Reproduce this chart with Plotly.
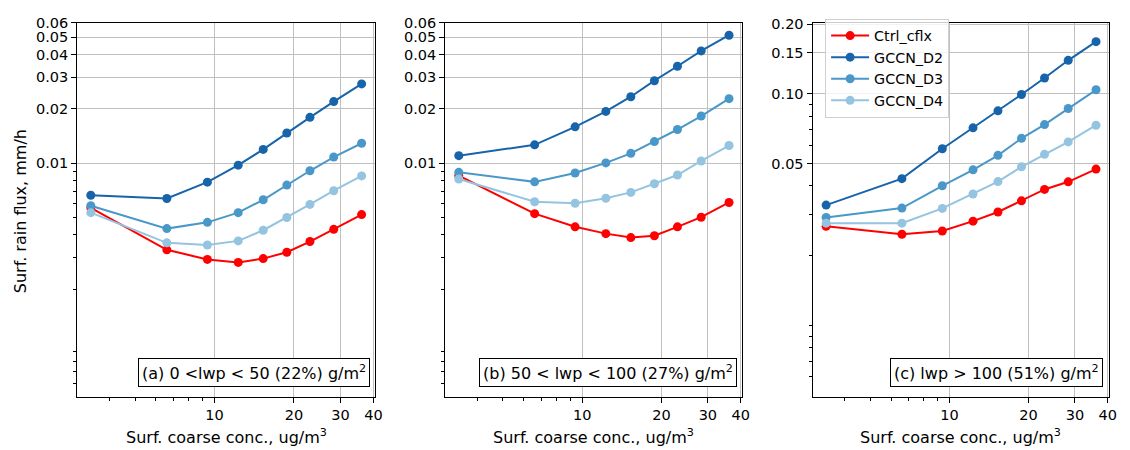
import plotly.graph_objects as go

# ---------------- data ----------------
coarse_conc = [3.4, 6.6, 9.4, 12.3, 15.3, 18.8, 23.0, 28.3, 36.1]

series_names = ["Ctrl_cflx", "GCCN_D2", "GCCN_D3", "GCCN_D4"]
series_colors = ["#ff0000", "#1764ab", "#4a98c9", "#94c4df"]

# panel (a) 0 < lwp < 50
ctrl_a = [0.00566, 0.00331, 0.00293, 0.00282, 0.00296, 0.00321, 0.00368, 0.00430, 0.00519]
d2_a = [0.00664, 0.00637, 0.00785, 0.00975, 0.01192, 0.01470, 0.01796, 0.02195, 0.02750]
d3_a = [0.00581, 0.00434, 0.00470, 0.00532, 0.00627, 0.00756, 0.00908, 0.01082, 0.01290]
d4_a = [0.00532, 0.00362, 0.00352, 0.00371, 0.00425, 0.00500, 0.00591, 0.00704, 0.00850]

# panel (b) 50 < lwp < 100
ctrl_b = [0.00853, 0.00525, 0.00444, 0.00407, 0.00387, 0.00396, 0.00444, 0.00502, 0.00606]
d2_b = [0.01101, 0.01264, 0.01590, 0.01936, 0.02336, 0.02866, 0.03445, 0.04190, 0.05121]
d3_b = [0.00890, 0.00788, 0.00882, 0.01004, 0.01134, 0.01317, 0.01537, 0.01825, 0.02279]
d4_b = [0.00818, 0.00611, 0.00600, 0.00639, 0.00689, 0.00769, 0.00860, 0.01029, 0.01253]

# panel (c) lwp > 100
ctrl_c = [0.02677, 0.02476, 0.02558, 0.02820, 0.03088, 0.03450, 0.03864, 0.04168, 0.04730]
d2_c = [0.03307, 0.04302, 0.05789, 0.07127, 0.08437, 0.0993, 0.1169, 0.1394, 0.1678]
d3_c = [0.02924, 0.03210, 0.04007, 0.04696, 0.05423, 0.06421, 0.07359, 0.08637, 0.1040]
d4_c = [0.02764, 0.02764, 0.03201, 0.03694, 0.04178, 0.04837, 0.05475, 0.06198, 0.07316]

panel_labels = [
    "(a) 0 <lwp < 50 (22%) g/m<sup>2</sup>",
    "(b) 50 < lwp < 100 (27%) g/m<sup>2</sup>",
    "(c) lwp > 100 (51%) g/m<sup>2</sup>",
]
x_title = "Surf. coarse conc., ug/m<sup>3</sup>"
y_title = "Surf. rain flux, mm/h"

x_tickvals = [10, 20, 30, 40]
x_ticktext = ["10", "20", "30", "40"]
x_minor = [4, 5, 6, 7, 8, 9]

y_tickvals_ab = [0.01, 0.02, 0.03, 0.04, 0.05, 0.06]
y_ticktext_ab = ["0.01", "0.02", "0.03", "0.04", "0.05", "0.06"]
y_minor_ab = [0.0006, 0.0007, 0.0008, 0.0009, 0.002, 0.003, 0.004, 0.005,
              0.006, 0.007, 0.008, 0.009]

y_tickvals_c = [0.05, 0.10, 0.15, 0.20]
y_ticktext_c = ["0.05", "0.10", "0.15", "0.20"]
y_minor_c = [0.006, 0.007, 0.008, 0.009, 0.01, 0.02, 0.03, 0.04,
             0.06, 0.07, 0.08, 0.09]

# ---------------- layout geometry ----------------
W, H = 1130, 450
FONT = "DejaVu Sans"
FS_TICK = 14.5
FS_LABEL = 16
FS_LEG = 14.3

x_domains = [(77.7 / W, 377.7 / W), (448.3 / W, 747.7 / W), (818.3 / W, 1117.3 / W)]
y_domain = (1 - 396 / H, 1 - 15 / H)
x_range = [0.4797, 1.6083]
y_range_ab = [-3.2956, -1.2215]
y_range_c = [-2.3086, -0.6935]

panels = [
    (ctrl_a, d2_a, d3_a, d4_a),
    (ctrl_b, d2_b, d3_b, d4_b),
    (ctrl_c, d2_c, d3_c, d4_c),
]

fig = go.Figure()

for p, data in enumerate(panels):
    xa = "x" if p == 0 else f"x{p + 1}"
    ya = "y" if p == 0 else f"y{p + 1}"
    for name, col, yvals in zip(series_names, series_colors, data):
        fig.add_trace(go.Scatter(
            x=coarse_conc, y=yvals, name=name, mode="lines+markers",
            line=dict(color=col, width=2),
            marker=dict(color=col, size=9),
            xaxis=xa, yaxis=ya,
            showlegend=(p == 2),
        ))

axis_common = dict(
    type="log", showline=True, linecolor="black", linewidth=1, mirror=True,
    ticks="outside", ticklen=5, tickwidth=1, tickcolor="black",
    showgrid=True, gridcolor="#c0c0c0", gridwidth=1, zeroline=False,
    tickfont=dict(family=FONT, size=FS_TICK, color="black"),
)

layout = dict(
    width=W, height=H,
    margin=dict(l=0, r=0, t=0, b=0),
    paper_bgcolor="white", plot_bgcolor="white",
    font=dict(family=FONT, size=FS_TICK, color="black"),
    legend=dict(
        x=831 / W, y=1 - 11 / H, xanchor="left", yanchor="top",
        bgcolor="rgba(255,255,255,0.8)", bordercolor="#d0d0d0", borderwidth=1,
        font=dict(family=FONT, size=FS_LEG, color="black"),
        itemwidth=38,
    ),
)

for p in range(3):
    xk = "xaxis" if p == 0 else f"xaxis{p + 1}"
    yk = "yaxis" if p == 0 else f"yaxis{p + 1}"
    ya_anchor = "y" if p == 0 else f"y{p + 1}"
    xa_anchor = "x" if p == 0 else f"x{p + 1}"
    layout[xk] = dict(
        axis_common, domain=list(x_domains[p]), anchor=ya_anchor,
        range=x_range, tickmode="array", tickvals=x_tickvals, ticktext=x_ticktext,
        minor=dict(tickmode="array", tickvals=x_minor, ticks="outside",
                   ticklen=3, tickcolor="black", showgrid=False),
    )
    if p < 2:
        yr, tv, tt, mn = y_range_ab, y_tickvals_ab, y_ticktext_ab, y_minor_ab
    else:
        yr, tv, tt, mn = y_range_c, y_tickvals_c, y_ticktext_c, y_minor_c
    layout[yk] = dict(
        axis_common, domain=list(y_domain), anchor=xa_anchor,
        range=yr, tickmode="array", tickvals=tv, ticktext=tt,
        minor=dict(tickmode="array", tickvals=mn, ticks="outside",
                   ticklen=3, tickcolor="black", showgrid=False),
    )

fig.update_layout(**layout)

annotations = []
box_right = [372.7 / W, 742 / W, 1111 / W]
for p in range(3):
    annotations.append(dict(
        text=panel_labels[p], xref="paper", yref="paper",
        x=box_right[p], y=1 - 386 / H, xanchor="right", yanchor="bottom",
        showarrow=False, bgcolor="white", bordercolor="black", borderwidth=1,
        borderpad=3, font=dict(family=FONT, size=FS_LABEL, color="black"),
    ))
    cx = (x_domains[p][0] + x_domains[p][1]) / 2
    annotations.append(dict(
        text=x_title, xref="paper", yref="paper",
        x=cx, y=1 - 436 / H, xanchor="center", yanchor="middle",
        showarrow=False, font=dict(family=FONT, size=FS_LABEL, color="black"),
    ))
annotations.append(dict(
    text=y_title, xref="paper", yref="paper",
    x=20 / W, y=1 - 207 / H, xanchor="center", yanchor="middle",
    textangle=-90, showarrow=False, font=dict(family=FONT, size=FS_LABEL, color="black"),
))
fig.update_layout(annotations=annotations)

fig.write_html("out.html")
